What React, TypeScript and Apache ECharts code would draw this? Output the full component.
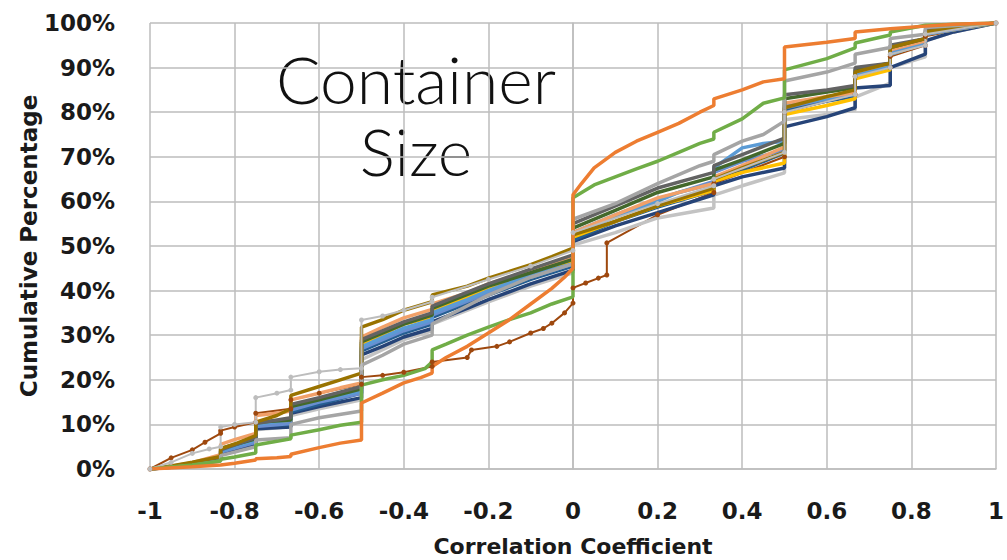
import React, { useEffect, useRef } from "react";
import * as echarts from "echarts";

type Pt = [number, number];

// Axis ranges (correlation coefficient on x, cumulative percentage on y)
const xMin = -1;
const xMax = 1;
const xStep = 0.2;
const yMin = 0;
const yMax = 100;
const yStep = 10;

const titleLines = ["Container", "Size"];
const xAxisTitle = "Correlation Coefficient";
const yAxisTitle = "Cumulative Percentage";

// Cumulative distributions, one per container-size group: [coefficient, percent]
const olive: Pt[] = [[-1,0],[-0.95,0.7],[-0.9,1.5],[-0.833,2.8],[-0.833,4.5],[-0.8,5.6],[-0.75,7.5],[-0.75,10.5],[-0.7,12],[-0.667,13.5],[-0.667,16.5],[-0.6,18.5],[-0.55,20],[-0.5,21.5],[-0.5,31.8],[-0.45,33.5],[-0.4,35.6],[-0.333,37.5],[-0.333,39],[-0.25,41],[-0.2,42.8],[-0.1,45.8],[-0.05,47.6],[0,49.5],[0,52.5],[0.1,55.5],[0.2,59],[0.333,63],[0.333,65],[0.4,67.5],[0.5,71],[0.5,81],[0.6,83.5],[0.667,85],[0.667,89],[0.75,91],[0.75,94.5],[0.833,96.5],[0.833,98],[0.9,99],[1,100]];
const lightOrange: Pt[] = [[-1,0],[-0.95,0.6],[-0.9,1.4],[-0.833,3.2],[-0.833,5.5],[-0.8,6.6],[-0.75,8],[-0.75,12],[-0.7,12.5],[-0.667,13],[-0.667,15.5],[-0.6,17],[-0.55,18.2],[-0.5,19.3],[-0.5,29.6],[-0.45,31.8],[-0.4,33.9],[-0.333,35.8],[-0.333,37],[-0.25,39.5],[-0.2,41.5],[-0.1,44.5],[-0.05,46],[0,47.5],[0,53],[0.1,57],[0.2,60.8],[0.333,64],[0.333,65.5],[0.4,68],[0.5,72.2],[0.5,82],[0.6,83.5],[0.667,84.3],[0.667,89],[0.75,91],[0.75,94],[0.833,96],[0.833,98],[0.9,99],[1,100]];
const blue: Pt[] = [[-1,0],[-0.9,1],[-0.833,2.5],[-0.833,4],[-0.75,6.5],[-0.75,10],[-0.667,11],[-0.667,14],[-0.6,15.5],[-0.5,17.5],[-0.5,27.4],[-0.45,29.5],[-0.4,31.6],[-0.333,33.5],[-0.333,35],[-0.25,38],[-0.2,40],[-0.1,43.5],[0,46],[0,52.5],[0.1,56.5],[0.2,60],[0.25,62],[0.333,64],[0.333,67.5],[0.4,72],[0.45,73],[0.5,73.5],[0.5,81.5],[0.6,83],[0.667,84],[0.667,88.5],[0.75,90.5],[0.75,93],[0.833,95.5],[0.833,97.5],[0.9,98.8],[1,100]];
const darkBlue: Pt[] = [[-1,0],[-0.9,0.8],[-0.833,2],[-0.833,3.5],[-0.75,5.5],[-0.75,9],[-0.667,9.4],[-0.667,12.5],[-0.6,14],[-0.5,16],[-0.5,25.6],[-0.45,27.5],[-0.4,29.6],[-0.333,31.5],[-0.333,33],[-0.25,36],[-0.2,38],[-0.1,41.5],[0,44.6],[0,51],[0.1,54.5],[0.2,57.5],[0.333,61.5],[0.333,63.5],[0.4,65.5],[0.5,67.5],[0.5,76.7],[0.6,79],[0.667,81],[0.667,85.4],[0.75,86],[0.75,90],[0.833,93],[0.833,96],[0.9,98],[1,100]];
const teal: Pt[] = [[-1,0],[-0.9,1],[-0.833,2.3],[-0.833,4],[-0.75,6],[-0.75,9.8],[-0.667,10],[-0.667,12.8],[-0.6,14.5],[-0.5,17],[-0.5,26.5],[-0.4,30.5],[-0.333,32.5],[-0.333,34],[-0.2,39],[-0.1,42.5],[0,45.5],[0,51.3],[0.1,55.5],[0.2,58.7],[0.333,62.5],[0.333,64.5],[0.4,67],[0.5,70.9],[0.5,80.5],[0.6,82.5],[0.667,83.5],[0.667,88],[0.75,90],[0.75,93],[0.833,95.5],[0.833,97.5],[1,100]];
const darkGreen: Pt[] = [[-1,0],[-0.9,1.1],[-0.833,2.5],[-0.833,4.6],[-0.75,6.8],[-0.75,10.5],[-0.667,11],[-0.667,14],[-0.6,15.5],[-0.5,18],[-0.5,28.5],[-0.4,32.5],[-0.333,34.5],[-0.333,36],[-0.2,41],[-0.1,44],[0,47],[0,54],[0.1,58],[0.2,62],[0.333,65.5],[0.333,67],[0.4,69.3],[0.5,73],[0.5,83],[0.6,84.5],[0.667,85.5],[0.667,89.5],[0.75,91],[0.75,94.5],[0.833,96.5],[0.833,98],[1,100]];
const darkGray: Pt[] = [[-1,0],[-0.9,1.2],[-0.833,2.6],[-0.833,4.3],[-0.75,7],[-0.75,10.2],[-0.667,11.5],[-0.667,14.5],[-0.6,16],[-0.5,18.5],[-0.5,29],[-0.4,33],[-0.333,35],[-0.333,36.5],[-0.2,41.5],[-0.1,44.8],[0,48],[0,55],[0.1,59],[0.2,63],[0.333,66.5],[0.333,68],[0.4,70.5],[0.5,74.2],[0.5,83.9],[0.6,85],[0.667,86],[0.667,90],[0.75,91],[0.75,95],[0.833,96.5],[0.833,98.5],[1,100]];
const yellow: Pt[] = [[-1,0],[-0.9,0.9],[-0.833,2.4],[-0.833,4],[-0.75,6.5],[-0.75,9.8],[-0.667,10.5],[-0.667,13.5],[-0.6,15.2],[-0.5,18],[-0.5,28],[-0.4,32.5],[-0.333,34],[-0.333,35.5],[-0.2,40.5],[-0.1,43.5],[0,46.5],[0,52],[0.1,55.5],[0.2,59],[0.333,62.5],[0.333,64.5],[0.4,66.5],[0.5,68.6],[0.5,79.5],[0.6,81.5],[0.667,83],[0.667,87.5],[0.75,89.5],[0.75,93],[0.833,95.5],[0.833,97.5],[1,100]];
const lightBlue: Pt[] = [[-1,0],[-0.9,0.9],[-0.833,2.2],[-0.833,3.8],[-0.75,6],[-0.75,9.5],[-0.667,10.2],[-0.667,13.2],[-0.6,15],[-0.5,17],[-0.5,27],[-0.4,31],[-0.333,33],[-0.333,34.5],[-0.2,39.5],[-0.1,43],[0,46],[0,53],[0.1,57],[0.2,60.5],[0.333,64.5],[0.333,66.5],[0.4,69],[0.5,71.5],[0.5,81],[0.6,83],[0.667,84],[0.667,88.5],[0.75,90.5],[0.75,93.5],[0.833,95.5],[0.833,97.5],[1,100]];
const paleGray: Pt[] = [[-1,0],[-0.9,0.8],[-0.833,2],[-0.833,3.4],[-0.75,5.5],[-0.75,8.8],[-0.667,9.5],[-0.667,12],[-0.6,13.5],[-0.5,15.5],[-0.5,24.5],[-0.4,29],[-0.333,31],[-0.333,32.5],[-0.2,37.5],[-0.1,41],[0,44],[0,50.2],[0.1,53],[0.2,56.3],[0.333,58.5],[0.333,61.4],[0.4,63.5],[0.5,66.4],[0.5,78.3],[0.6,79.5],[0.667,80.5],[0.667,83.4],[0.75,86.5],[0.75,90],[0.833,92.4],[0.833,96],[0.9,98],[1,100]];
const gray: Pt[] = [[-1,0],[-0.9,0.8],[-0.833,1.8],[-0.833,3],[-0.75,5],[-0.75,6.5],[-0.667,7],[-0.667,10],[-0.6,11.5],[-0.5,13],[-0.5,23.3],[-0.45,25.5],[-0.4,28],[-0.333,30],[-0.333,32.5],[-0.2,39],[-0.1,43],[0,46],[0,56],[0.1,59.5],[0.2,64],[0.3,68],[0.333,69],[0.333,70.5],[0.4,73.5],[0.45,75],[0.5,78],[0.5,87],[0.6,89],[0.667,91],[0.667,93],[0.75,94.5],[0.75,96.5],[0.833,97.5],[0.833,99],[1,100]];
const brown: Pt[] = [[-1,0],[-0.95,2.5],[-0.9,4.3],[-0.87,6],[-0.833,8],[-0.833,8.6],[-0.8,9.4],[-0.75,10.5],[-0.75,12.5],[-0.667,13.5],[-0.667,15.5],[-0.6,17],[-0.5,19],[-0.5,20.6],[-0.45,21],[-0.4,21.7],[-0.333,23],[-0.333,24],[-0.25,25],[-0.24,26.7],[-0.18,27.5],[-0.15,28.5],[-0.1,30.5],[-0.07,31.5],[-0.05,32.7],[-0.02,35],[0,37.2],[0,40.6],[0.03,41.7],[0.06,42.8],[0.08,43.5],[0.08,50.7],[0.2,57],[0.333,62],[0.333,64],[0.5,70],[0.5,80],[0.667,84],[0.667,88],[0.75,90],[0.75,92.5],[0.833,95],[0.833,97],[1,100]];
const markerGray: Pt[] = [[-1,0],[-0.95,1.5],[-0.9,3.5],[-0.86,4.5],[-0.833,5],[-0.833,9.4],[-0.8,10],[-0.75,10.5],[-0.75,16],[-0.7,17],[-0.667,17.7],[-0.667,20.6],[-0.6,21.8],[-0.55,22.3],[-0.5,22.6],[-0.5,33.4],[-0.45,34.3],[-0.4,35.6],[-0.333,37.5],[-0.333,38.5],[-0.2,42.5],[-0.1,45.5],[0,49],[0,53],[0.2,59.5],[0.333,63.5],[0.333,65],[0.5,71],[0.5,80],[0.667,84],[0.667,88],[0.75,90],[0.75,93],[0.833,95],[0.833,97.5],[1,100]];
const green: Pt[] = [[-1,0],[-0.9,0.9],[-0.833,1.8],[-0.833,2.2],[-0.8,2.7],[-0.75,3.6],[-0.75,5.4],[-0.7,6.2],[-0.667,6.8],[-0.667,7.6],[-0.6,8.8],[-0.55,9.8],[-0.5,10.5],[-0.5,18.8],[-0.45,20],[-0.4,21],[-0.35,22.5],[-0.333,24],[-0.333,26.7],[-0.3,28],[-0.25,30],[-0.2,31.8],[-0.15,33.5],[-0.1,35],[-0.05,37],[0,38.6],[0,60.8],[0.05,63.7],[0.1,65.5],[0.15,67.3],[0.2,69],[0.25,71],[0.3,73],[0.333,74],[0.333,75.5],[0.4,78.5],[0.45,82],[0.5,83.2],[0.5,89.5],[0.6,92],[0.667,94.4],[0.667,95.5],[0.75,97.3],[0.75,98],[0.833,99.5],[1,100]];
const orange: Pt[] = [[-1,0],[-0.9,0.5],[-0.833,0.9],[-0.8,1.3],[-0.75,2],[-0.75,2.3],[-0.7,2.5],[-0.667,2.8],[-0.667,3.3],[-0.6,4.8],[-0.55,5.8],[-0.5,6.5],[-0.5,14.8],[-0.45,17],[-0.4,19.3],[-0.36,20.5],[-0.333,21.5],[-0.333,23],[-0.3,25],[-0.25,27.5],[-0.2,30.5],[-0.15,33.5],[-0.1,37],[-0.05,40.5],[-0.02,43],[0,45],[0,61.5],[0.02,64],[0.05,67.5],[0.1,71],[0.15,73.5],[0.2,75.5],[0.25,77.5],[0.3,80],[0.333,81.5],[0.333,83],[0.4,85],[0.45,86.8],[0.5,87.5],[0.5,94.6],[0.6,95.7],[0.667,96.5],[0.667,98],[0.75,98.7],[0.833,99.3],[0.9,99.7],[1,100]];

// Draw order: first entries sit underneath the later ones
const groups: { name: string; color: string; data: Pt[]; markers?: boolean; width?: number }[] = [
  { name: "brown", color: "#9E480E", data: brown, markers: true, width: 2 },
  { name: "paleGray", color: "#C3C3C3", data: paleGray },
  { name: "darkBlue", color: "#264478", data: darkBlue },
  { name: "teal", color: "#255E91", data: teal },
  { name: "yellow", color: "#FFC000", data: yellow },
  { name: "lightBlue", color: "#698ED0", data: lightBlue },
  { name: "blue", color: "#5B9BD5", data: blue },
  { name: "lightOrange", color: "#F1A069", data: lightOrange },
  { name: "darkGreen", color: "#43682B", data: darkGreen },
  { name: "darkGray", color: "#636363", data: darkGray },
  { name: "olive", color: "#997300", data: olive },
  { name: "gray", color: "#A5A5A5", data: gray },
  { name: "markerGray", color: "#BDBDBD", data: markerGray, markers: true, width: 2 },
  { name: "green", color: "#70AD47", data: green },
  { name: "orange", color: "#ED7D31", data: orange },
];

const labelFont = "'DejaVu Sans', 'Open Sans', sans-serif";

export default function App() {
  const ref = useRef<HTMLDivElement>(null);

  useEffect(() => {
    document.body.style.margin = "0";
    if (!ref.current) return;
    const chart = echarts.init(ref.current, null, { renderer: "svg" });
    chart.setOption({
      animation: false,
      backgroundColor: "#ffffff",
      grid: { left: 150, right: 11, top: 23, bottom: 91, containLabel: false },
      xAxis: {
        type: "value",
        min: xMin,
        max: xMax,
        interval: xStep,
        axisLine: { show: true, lineStyle: { color: "#BDBDBD", width: 1.5 } },
        axisTick: { show: false },
        splitLine: { show: true, lineStyle: { color: "#BDBDBD", width: 1.5 } },
        axisLabel: {
          margin: 30,
          color: "#1a1a1a",
          fontFamily: labelFont,
          fontWeight: "bold",
          fontSize: 23,
          formatter: (v: number) => String(Math.round(v * 10) / 10),
        },
      },
      yAxis: {
        type: "value",
        min: yMin,
        max: yMax,
        interval: yStep,
        axisLine: { show: true, lineStyle: { color: "#BDBDBD", width: 1.5 } },
        axisTick: { show: false },
        splitLine: { show: true, lineStyle: { color: "#BDBDBD", width: 1.5 } },
        axisLabel: {
          margin: 35,
          color: "#1a1a1a",
          fontFamily: labelFont,
          fontWeight: "bold",
          fontSize: 23,
          formatter: "{value}%",
        },
      },
      graphic: [
        {
          type: "text",
          x: 416,
          y: 78,
          style: { text: titleLines[0], font: "300 66px Lato, sans-serif", fill: "#111", align: "center", verticalAlign: "middle" },
        },
        {
          type: "text",
          x: 416,
          y: 150,
          style: { text: titleLines[1], font: "300 66px Lato, sans-serif", fill: "#111", align: "center", verticalAlign: "middle" },
        },
        {
          type: "text",
          x: 573,
          y: 546,
          style: { text: xAxisTitle, font: "bold 22px 'DejaVu Sans', sans-serif", fill: "#1a1a1a", align: "center", verticalAlign: "middle" },
        },
        {
          type: "text",
          x: 29,
          y: 246,
          rotation: Math.PI / 2,
          style: { text: yAxisTitle, font: "bold 23px 'DejaVu Sans', sans-serif", fill: "#1a1a1a", align: "center", verticalAlign: "middle" },
        },
      ],
      series: groups.map((g) => ({
        name: g.name,
        type: "line",
        data: g.data,
        smooth: false,
        showSymbol: !!g.markers,
        symbol: "circle",
        symbolSize: g.markers ? 5 : 0,
        itemStyle: { color: g.color },
        lineStyle: { color: g.color, width: g.width ?? 3.5 },
        emphasis: { disabled: true },
        z: 3,
      })),
    });
    return () => chart.dispose();
  }, []);

  return <div ref={ref} style={{ width: 1007, height: 560 }} />;
}
